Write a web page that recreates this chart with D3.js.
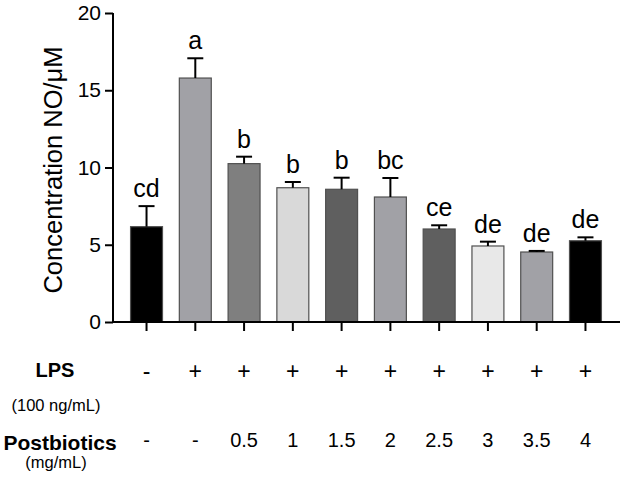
<!DOCTYPE html>
<html>
<head>
<meta charset="utf-8">
<script src="https://cdn.jsdelivr.net/npm/d3@7"></script>
<style>
  body { margin: 0; background: #fff; }
  svg text { font-family: Arial, "Liberation Sans", sans-serif; fill: #000; }
</style>
</head>
<body>
<div id="chart"></div>
<script>
// bar data
var groups = ["G1", "G2", "G3", "G4", "G5", "G6", "G7", "G8", "G9", "G10"];
var means  = [6.17, 15.79, 10.25, 8.69, 8.59, 8.09, 6.02, 4.92, 4.53, 5.26];
var errors = [1.33, 1.28, 0.45, 0.37, 0.75, 1.23, 0.24, 0.28, 0.07, 0.22];
var letters = ["cd", "a", "b", "b", "b", "bc", "ce", "de", "de", "de"];
var fills = ["#000000", "#a1a1a6", "#7f7f7f", "#d9d9d9", "#5f5f5f",
             "#a1a1a6", "#5f5f5f", "#e8e8e8", "#a1a1a6", "#000000"];
var yTicks = [0, 5, 10, 15, 20];

// treatment table under the chart
var lpsRow = ["-", "+", "+", "+", "+", "+", "+", "+", "+", "+"];
var postRow = ["-", "-", "0.5", "1", "1.5", "2", "2.5", "3", "3.5", "4"];

var W = 624, H = 477;
var margin = {left: 113, top: 13, right: 4};
var plotH = 322 - margin.top;

var svg = d3.select("#chart").append("svg")
    .attr("width", W)
    .attr("height", H);

var x = d3.scaleBand()
    .domain(groups)
    .range([margin.left, 619])
    .paddingInner(0.345)
    .paddingOuter(0.36);

var y = d3.scaleLinear()
    .domain([0, 20])
    .range([margin.top + plotH, margin.top]);

// bars
svg.selectAll(".bar")
    .data(groups)
    .enter().append("rect")
    .attr("class", "bar")
    .attr("x", function(d) { return x(d); })
    .attr("y", function(d, i) { return y(means[i]); })
    .attr("width", x.bandwidth())
    .attr("height", function(d, i) { return y(0) - y(means[i]); })
    .style("fill", function(d, i) { return fills[i]; })
    .style("stroke", "#505050")
    .style("stroke-width", 1.2);

// error bars (upper only)
var err = svg.selectAll(".err")
    .data(groups)
    .enter().append("g")
    .attr("class", "err")
    .attr("transform", function(d) { return "translate(" + (x(d) + x.bandwidth() / 2) + ",0)"; });

err.append("line")
    .attr("y1", function(d, i) { return y(means[i]); })
    .attr("y2", function(d, i) { return y(means[i] + errors[i]); })
    .style("stroke", "#000")
    .style("stroke-width", 2);

err.append("line")
    .attr("x1", -8)
    .attr("x2", 8)
    .attr("y1", function(d, i) { return y(means[i] + errors[i]); })
    .attr("y2", function(d, i) { return y(means[i] + errors[i]); })
    .style("stroke", "#000")
    .style("stroke-width", 2);

err.append("text")
    .attr("y", function(d, i) { return y(means[i] + errors[i]) - 9; })
    .attr("text-anchor", "middle")
    .style("font-size", "25px")
    .text(function(d, i) { return letters[i]; });

// y axis
var yAxis = svg.append("g")
    .attr("transform", "translate(" + margin.left + ",0)")
    .call(d3.axisLeft(y).tickValues(yTicks).tickSize(8).tickPadding(4));

// x axis, unlabeled ticks
var xAxis = svg.append("g")
    .attr("transform", "translate(0," + y(0) + ")")
    .call(d3.axisBottom(x).tickSize(9).tickFormat(""));

[yAxis, xAxis].forEach(function(a) {
    a.select(".domain").attr("d", null);
    a.selectAll("line").style("stroke", "#000").style("stroke-width", 2);
});
yAxis.append("line")
    .attr("y1", y(0) + 1).attr("y2", y(20))
    .style("stroke", "#000").style("stroke-width", 2);
xAxis.append("line")
    .attr("x1", margin.left).attr("x2", 620)
    .style("stroke", "#000").style("stroke-width", 2);

yAxis.selectAll("text")
    .style("font-size", "21px")
    .style("font-family", "Arial, 'Liberation Sans', sans-serif")
    .attr("fill", "#000");

svg.append("text")
    .attr("transform", "translate(62," + 170 + ") rotate(-90)")
    .attr("text-anchor", "middle")
    .style("font-size", "25.5px")
    .text("Concentration NO/\u03bcM");

// treatment table, columns line up with the bars
var col = function(i) { return x(groups[i]) + x.bandwidth() / 2; };

svg.append("text")
    .attr("x", 55).attr("y", 377)
    .attr("text-anchor", "middle")
    .style("font-size", "20px")
    .style("font-weight", "bold")
    .text("LPS");

svg.append("text")
    .attr("x", 56).attr("y", 411)
    .attr("text-anchor", "middle")
    .style("font-size", "16.5px")
    .text("(100 ng/mL)");

svg.append("text")
    .attr("x", 60).attr("y", 450)
    .attr("text-anchor", "middle")
    .style("font-size", "21px")
    .style("font-weight", "bold")
    .text("Postbiotics");

svg.append("text")
    .attr("x", 56).attr("y", 468)
    .attr("text-anchor", "middle")
    .style("font-size", "16.5px")
    .text("(mg/mL)");

svg.selectAll(".lps")
    .data(lpsRow)
    .enter().append("text")
    .attr("class", "lps")
    .attr("x", function(d, i) { return col(i); })
    .attr("y", 379)
    .attr("text-anchor", "middle")
    .style("font-size", "23px")
    .text(function(d) { return d; });

svg.selectAll(".post")
    .data(postRow)
    .enter().append("text")
    .attr("class", "post")
    .attr("x", function(d, i) { return col(i); })
    .attr("y", 447)
    .attr("text-anchor", "middle")
    .style("font-size", "20px")
    .text(function(d) { return d; });
</script>
</body>
</html>
